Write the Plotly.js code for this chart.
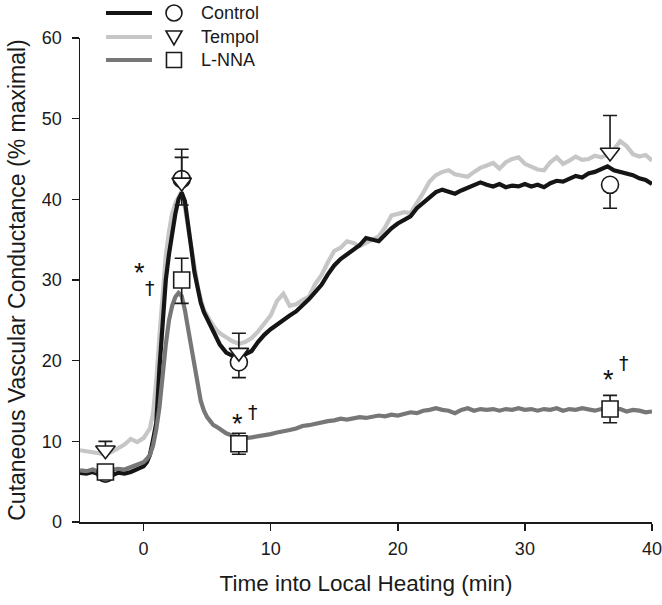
<!DOCTYPE html>
<html>
<head>
<meta charset="utf-8">
<script src="https://cdn.plot.ly/plotly-3.0.1.min.js"></script>
<style>html,body{margin:0;padding:0;background:#fff;}#chart{width:662px;height:605px;}</style>
</head>
<body>
<div id="chart"></div>
<script>
// Time into local heating (min)
var time = [-5,-4.5,-4,-3.5,-3,-2.5,-2,-1.5,-1,-0.5,0,0.25,0.5,0.75,1,1.25,1.5,1.75,2,2.25,2.5,2.75,3,3.25,3.5,3.75,4,4.25,4.5,4.75,5,5.25,5.5,5.75,6,6.5,7,7.5,8,8.5,9,9.5,10,10.5,11,11.5,12,12.5,13,13.5,14,14.5,15,15.5,16,16.5,17,17.5,18,18.5,19,19.5,20,20.5,21,21.5,22,22.5,23,23.5,24,24.5,25,25.5,26,26.5,27,27.5,28,28.5,29,29.5,30,30.5,31,31.5,32,32.5,33,33.5,34,34.5,35,35.5,36,36.5,37,37.5,38,38.5,39,39.5,40];

var controlTrace = [6.1,6.0,6.2,5.9,6.0,5.8,6.1,6.0,6.2,6.5,6.9,7.4,8.3,10.2,12.3,19.0,25.5,30.0,33.2,36.2,38.2,40.0,40.8,39.8,37.2,34.0,31.0,29.0,27.2,26.0,25.2,24.3,23.4,22.6,22.0,21.0,20.6,20.4,20.8,21.2,22.3,23.2,23.9,24.5,25.0,25.6,26.1,26.8,27.6,28.5,29.4,30.7,31.8,32.6,33.2,33.8,34.3,35.2,35.0,34.8,35.6,36.4,37.0,37.4,37.9,38.9,39.6,40.2,40.9,41.2,40.9,40.7,41.1,41.4,41.8,42.1,41.8,41.6,41.9,41.5,41.7,41.6,41.9,41.6,41.8,41.5,42.0,42.3,42.2,42.6,42.9,42.7,43.2,43.4,43.8,44.1,43.6,43.4,43.2,43.0,42.6,42.4,41.9];

var tempolTrace = [8.9,8.8,8.7,8.6,8.4,8.7,9.2,9.6,10.3,9.9,10.4,10.9,11.6,13.5,17.5,23.0,28.0,33.0,36.0,38.2,39.5,40.4,41.0,39.0,36.5,33.7,31.2,29.3,27.6,26.3,25.6,24.9,24.3,23.8,23.4,22.9,22.4,22.1,22.3,22.8,23.6,24.6,25.6,27.4,28.3,26.8,27.0,27.5,27.9,29.5,30.6,32.2,33.6,34.0,34.8,34.6,34.2,34.6,35.0,35.4,36.5,38.0,38.2,38.4,38.3,39.5,40.8,42.2,43.0,43.4,43.6,43.1,42.9,42.8,43.4,43.9,44.2,44.5,43.8,44.6,45.0,45.2,44.4,44.0,43.7,43.6,44.6,45.2,44.4,44.8,45.3,44.9,45.0,45.4,45.2,45.5,46.2,47.2,46.6,45.6,45.3,45.5,44.8];

var lnnaTrace = [6.4,6.3,6.5,6.2,6.3,6.4,6.6,6.5,6.8,7.1,7.4,7.8,8.3,9.5,11.5,14.2,18.5,22.0,25.0,26.8,27.9,28.4,28.0,26.3,24.0,21.7,19.0,16.8,15.0,13.8,13.0,12.5,12.0,11.8,11.5,11.0,10.7,10.5,10.4,10.5,10.6,10.8,10.9,11.1,11.2,11.4,11.6,11.9,12.0,12.2,12.3,12.5,12.6,12.8,12.7,12.9,13.0,12.9,13.1,13.2,13.1,13.3,13.2,13.4,13.6,13.5,13.8,13.9,14.1,13.9,13.8,13.5,13.9,14.1,13.8,14.0,13.9,14.0,13.8,14.0,13.9,14.1,13.9,14.0,13.8,14.0,13.9,14.1,13.8,14.0,13.9,14.1,13.9,13.8,14.0,13.9,14.1,14.0,13.7,13.9,13.8,13.6,13.7];

// Group means with SE at the sampling times
var sampleTime = [-3, 3, 7.5, 36.7];
var controlMean = [6.0, 42.5, 19.8, 41.8];
var controlErrUp = [0.4, 3.7, 0, 0];
var controlErrDown = [0.4, 3.2, 1.9, 2.9];
var tempolMean = [8.9, 42.1, 21.0, 45.8];
var tempolErrUp = [1.1, 3.1, 2.4, 4.6];
var tempolErrDown = [0, 0, 0, 0];
var lnnaMean = [6.2, 30.0, 9.7, 14.0];
var lnnaErrUp = [0.4, 2.7, 1.3, 1.7];
var lnnaErrDown = [0.4, 2.9, 1.3, 1.7];

var seriesNames = ['Control', 'Tempol', 'L-NNA'];
var lineColors = ['#151515', '#c6c6c6', '#777777'];

// Significance markers
var sigX = [-0.3, 0.5, 7.4, 8.6, 36.6, 37.8];
var sigY = [30.9, 29.0, 12.1, 13.6, 17.6, 19.7];
var sigText = ['*', '†', '*', '†', '*', '†'];

var font = "'Liberation Sans', Arial, sans-serif";
var ink = '#1a1a1a';

function lineTrace(y, color) {
  return {x: time, y: y, type: 'scatter', mode: 'lines', showlegend: false,
    line: {color: color, width: 4.2, shape: 'linear'}, hoverinfo: 'skip'};
}
function markerTrace(y, up, down, symbol, size) {
  return {x: sampleTime, y: y, type: 'scatter', mode: 'markers', showlegend: false, cliponaxis: false,
    marker: {symbol: symbol, size: size, color: '#ffffff', line: {color: ink, width: 1.6}},
    error_y: {type: 'data', symmetric: false, array: up, arrayminus: down, color: ink, thickness: 1.6, width: 7}};
}

var data = [
  lineTrace(tempolTrace, lineColors[1]),
  lineTrace(controlTrace, lineColors[0]),
  lineTrace(lnnaTrace, lineColors[2]),
  markerTrace(controlMean, controlErrUp, controlErrDown, 'circle', 17),
  markerTrace(tempolMean, tempolErrUp, tempolErrDown, 'triangle-down', 17),
  markerTrace(lnnaMean, lnnaErrUp, lnnaErrDown, 'square', 16)
];

var annotations = [];
for (var i = 0; i < sigX.length; i++) {
  var star = sigText[i] === '*';
  annotations.push({x: sigX[i], y: sigY[i], xref: 'x', yref: 'y', text: sigText[i], showarrow: false,
    font: {family: star ? font : "'DejaVu Sans', sans-serif", size: star ? 27 : 19, color: '#111111'}});
}

// Legend (drawn by hand to match the original arrangement)
var legY = [1.0517, 1.0021, 0.9545];
var shapes = [];
for (var k = 0; k < 3; k++) {
  shapes.push({type: 'line', xref: 'paper', yref: 'paper', x0: 0.0455, x1: 0.1259, y0: legY[k], y1: legY[k],
    line: {color: lineColors[k], width: 4.2}});
  annotations.push({xref: 'paper', yref: 'paper', x: 0.208, y: legY[k], xanchor: 'left', yanchor: 'middle',
    text: seriesNames[k], showarrow: false, font: {family: font, size: 18, color: ink}});
}
shapes.push({type: 'circle', xref: 'paper', yref: 'paper', xsizemode: 'pixel', ysizemode: 'pixel',
  xanchor: 0.1643, yanchor: legY[0], x0: -8, x1: 8, y0: -8, y1: 8, line: {color: ink, width: 1.6}, fillcolor: '#fff'});
shapes.push({type: 'path', xref: 'paper', yref: 'paper', xsizemode: 'pixel', ysizemode: 'pixel',
  xanchor: 0.1643, yanchor: legY[1], path: 'M -8,6 L 8,6 L 0,-8 Z', line: {color: ink, width: 1.6}, fillcolor: '#fff'});
shapes.push({type: 'rect', xref: 'paper', yref: 'paper', xsizemode: 'pixel', ysizemode: 'pixel',
  xanchor: 0.1643, yanchor: legY[2], x0: -7.5, x1: 7.5, y0: -7.5, y1: 7.5, line: {color: ink, width: 1.6}, fillcolor: '#fff'});

var layout = {
  width: 662, height: 605,
  margin: {l: 80, r: 10, t: 38, b: 83},
  paper_bgcolor: '#ffffff', plot_bgcolor: '#ffffff',
  showlegend: false,
  font: {family: font, size: 18, color: ink},
  xaxis: {range: [-5, 40], tickvals: [0, 10, 20, 30, 40], showgrid: false, zeroline: false,
    showline: true, linecolor: ink, linewidth: 1.5, ticks: 'outside', ticklen: 7, tickwidth: 1.5, tickcolor: ink,
    ticklabelstandoff: 3, ticklabeloverflow: 'allow',
    tickfont: {family: font, size: 18, color: ink},
    title: {text: 'Time into Local Heating (min)', font: {family: font, size: 22.5, color: ink}, standoff: 17}},
  yaxis: {range: [0, 60], tickvals: [0, 10, 20, 30, 40, 50, 60], showgrid: false, zeroline: false,
    showline: true, linecolor: ink, linewidth: 1.5, ticks: 'outside', ticklen: 7, tickwidth: 1.5, tickcolor: ink,
    ticklabelstandoff: 6,
    tickfont: {family: font, size: 18, color: ink},
    title: {text: 'Cutaneous Vascular Conductance (% maximal)', font: {family: font, size: 23, color: ink}, standoff: 10}},
  annotations: annotations,
  shapes: shapes
};

Plotly.newPlot('chart', data, layout, {displayModeBar: false, staticPlot: true});
</script>
</body>
</html>
